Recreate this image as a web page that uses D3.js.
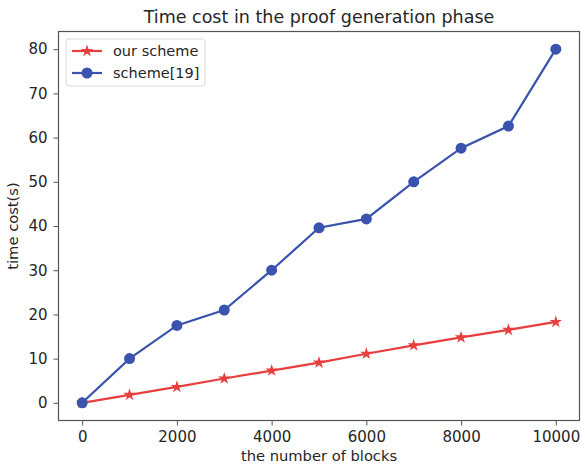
<!DOCTYPE html>
<html>
<head>
<meta charset="utf-8">
<script src="https://cdn.jsdelivr.net/npm/d3@7"></script>
<style>
  body { margin: 0; background: #fff; }
  text { font-family: "DejaVu Sans", sans-serif; fill: #262626; }
</style>
</head>
<body>
<div id="chart"></div>
<script>
// data
var blocks = [0, 1000, 2000, 3000, 4000, 5000, 6000, 7000, 8000, 9000, 10000];
var ourScheme = [0, 1.8, 3.6, 5.5, 7.3, 9.1, 11.1, 13.0, 14.8, 16.5, 18.3];
var scheme19 = [0, 10, 17.5, 21, 30, 39.6, 41.6, 50, 57.6, 62.6, 80];
var xTicks = [0, 2000, 4000, 6000, 8000, 10000];
var yTicks = [0, 10, 20, 30, 40, 50, 60, 70, 80];

var width = 581, height = 466;
var margin = {top: 31.5, right: 1.5, bottom: 45.5, left: 58.5};

var svg = d3.select("#chart")
  .append("svg")
    .attr("width", width)
    .attr("height", height);

var x = d3.scaleLinear().domain([-500, 10500]).range([margin.left, width - margin.right]);
var y = d3.scaleLinear().domain([-4, 84]).range([height - margin.bottom, margin.top]);

// axes
svg.append("g")
    .attr("transform", "translate(0," + (height - margin.bottom) + ")")
    .call(d3.axisBottom(x).tickValues(xTicks).tickSize(5).tickPadding(6).tickFormat(d3.format("d")))
    .call(function(g) { g.select(".domain").remove(); })
    .call(function(g) { g.selectAll("line").attr("stroke", "#555"); })
    .call(function(g) { g.selectAll("text").attr("font-size", 15).attr("font-family", "DejaVu Sans").attr("fill", "#262626"); });

svg.append("g")
    .attr("transform", "translate(" + margin.left + ",0)")
    .call(d3.axisLeft(y).tickValues(yTicks).tickSize(5).tickPadding(6))
    .call(function(g) { g.select(".domain").remove(); })
    .call(function(g) { g.selectAll("line").attr("stroke", "#555"); })
    .call(function(g) { g.selectAll("text").attr("font-size", 15).attr("font-family", "DejaVu Sans").attr("fill", "#262626"); });

// frame
svg.append("rect")
    .attr("x", margin.left)
    .attr("y", margin.top)
    .attr("width", width - margin.left - margin.right)
    .attr("height", height - margin.bottom - margin.top)
    .attr("fill", "none")
    .attr("stroke", "#555")
    .attr("stroke-width", 1.2);

var line = d3.line()
  .x(function(d, i) { return x(blocks[i]); })
  .y(function(d) { return y(d); });

var red = "#e83e3e", blue = "#3953ae";

svg.append("path")
    .datum(ourScheme)
    .attr("d", line)
    .attr("fill", "none")
    .attr("stroke", red)
    .attr("stroke-width", 2.2);

var star = d3.symbol().type(d3.symbolStar).size(48);

svg.selectAll(".star")
  .data(ourScheme)
  .enter()
  .append("path")
    .attr("class", "star")
    .attr("d", star)
    .attr("transform", function(d, i) { return "translate(" + x(blocks[i]) + "," + y(d) + ")"; })
    .attr("fill", red);

svg.append("path")
    .datum(scheme19)
    .attr("d", line)
    .attr("fill", "none")
    .attr("stroke", blue)
    .attr("stroke-width", 2.2);

svg.selectAll(".dot")
  .data(scheme19)
  .enter()
  .append("circle")
    .attr("class", "dot")
    .attr("cx", function(d, i) { return x(blocks[i]); })
    .attr("cy", function(d) { return y(d); })
    .attr("r", 5.5)
    .attr("fill", blue);

// title and labels
svg.append("text")
    .attr("x", (margin.left + width - margin.right) / 2)
    .attr("y", 23)
    .attr("text-anchor", "middle")
    .attr("font-size", 17.5)
    .text("Time cost in the proof generation phase");

svg.append("text")
    .attr("x", (margin.left + width - margin.right) / 2)
    .attr("y", 461)
    .attr("text-anchor", "middle")
    .attr("font-size", 14.7)
    .text("the number of blocks");

svg.append("text")
    .attr("transform", "translate(18," + (margin.top + height - margin.bottom) / 2 + ") rotate(-90)")
    .attr("text-anchor", "middle")
    .attr("font-size", 14.7)
    .text("time cost(s)");

// legend
var legend = svg.append("g").attr("transform", "translate(66,39)");
legend.append("rect")
    .attr("width", 139)
    .attr("height", 47)
    .attr("rx", 3)
    .attr("fill", "#fff")
    .attr("stroke", "#d9d9d9");

var items = [
  {name: "our scheme", color: red, type: "star"},
  {name: "scheme[19]", color: blue, type: "dot"}
];

items.forEach(function(it, i) {
  var ly = 12 + i * 22;
  legend.append("line")
      .attr("x1", 6).attr("x2", 36)
      .attr("y1", ly).attr("y2", ly)
      .attr("stroke", it.color)
      .attr("stroke-width", 2.2);
  if (it.type == "star") {
    legend.append("path").attr("d", star).attr("transform", "translate(21," + ly + ")").attr("fill", it.color);
  } else {
    legend.append("circle").attr("cx", 21).attr("cy", ly).attr("r", 5.5).attr("fill", it.color);
  }
  legend.append("text")
      .attr("x", 47)
      .attr("y", ly + 5)
      .attr("font-size", 14.5)
      .text(it.name);
});
</script>
</body>
</html>
